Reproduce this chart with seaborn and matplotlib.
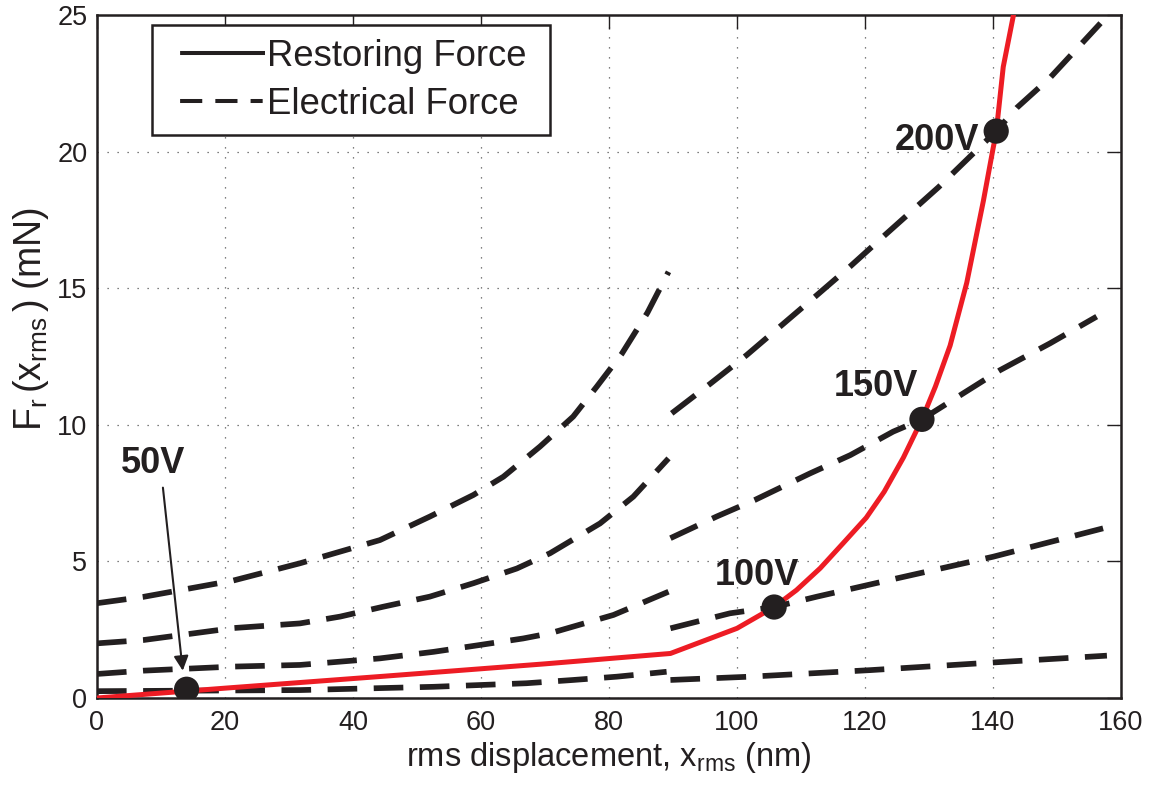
import numpy as np
import pandas as pd
import matplotlib
matplotlib.use("Agg")
import matplotlib.pyplot as plt
from matplotlib.lines import Line2D
import seaborn as sns

# ---- data -------------------------------------------------------------
# restoring force F_r(x_rms), mN
restoring_x = [0, 20, 45, 70, 89.6, 100, 105.8, 109.3, 113, 116.6, 120.2, 123,
               126, 128.9, 131, 133.3, 135.9, 138.5, 140, 140.5, 141.6, 143.2]
restoring_y = [0, 0.36, 0.8, 1.25, 1.63, 2.55, 3.33, 3.95, 4.75, 5.67, 6.6, 7.55,
               8.8, 10.2, 11.4, 12.9, 15.2, 18.2, 20.1, 20.7, 23.1, 25.0]

# electrical force, low-displacement branch (x <= 90 nm)
elec_low_x = {
    "200V": [0, 7.2, 21.3, 31.7, 44.2, 52, 58.8, 63.5, 69.2, 74.4, 78.1, 82, 86, 89.3],
    "150V": [0, 7.2, 21.3, 31.7, 38, 44.7, 52, 58.8, 65.6, 70.8, 78.6, 83.8, 89.3],
    "100V": [0, 7.2, 21.3, 31.7, 44.2, 52.6, 59.8, 66.6, 70.8, 80.7, 89.3],
    "50V":  [0, 31.7, 52.6, 67.1, 74.4, 81.2, 89.0],
}
elec_low_y = {
    "200V": [3.47, 3.7, 4.3, 4.93, 5.78, 6.64, 7.43, 8.1, 9.2, 10.3, 11.4, 12.6, 14.1, 15.6],
    "150V": [2.0, 2.12, 2.56, 2.73, 2.98, 3.34, 3.71, 4.2, 4.74, 5.3, 6.39, 7.37, 8.77],
    "100V": [0.88, 1.0, 1.15, 1.21, 1.45, 1.69, 1.94, 2.18, 2.37, 3.04, 3.89],
    "50V":  [0.25, 0.29, 0.41, 0.54, 0.66, 0.78, 0.96],
}

# electrical force, high-displacement branch (x >= 90 nm)
elec_high_x = {
    "200V": [89.8, 95.8, 101.5, 112.5, 117.7, 122.9, 131.5, 140.5, 143.7, 148.9, 156.8],
    "150V": [89.6, 96.8, 102.8, 111.4, 117.7, 124.4, 128.9, 141.1, 148.9, 156.2],
    "100V": [89.6, 98.9, 105.8, 112.5, 125, 140, 157.2],
    "50V":  [89.6, 102, 120.8, 140, 157.8],
}
elec_high_y = {
    "200V": [10.42, 11.5, 12.55, 14.75, 15.8, 16.9, 18.7, 20.75, 21.6, 22.7, 24.7],
    "150V": [5.85, 6.64, 7.25, 8.22, 8.89, 9.75, 10.2, 12.0, 12.98, 13.96],
    "100V": [2.55, 3.1, 3.33, 3.71, 4.38, 5.17, 6.21],
    "50V":  [0.66, 0.78, 1.02, 1.3, 1.55],
}

# equilibrium points (restoring force = electrical force)
eq_labels = ["50V", "100V", "150V", "200V"]
eq_x = [14.0, 105.8, 128.9, 140.5]
eq_y = [0.32, 3.33, 10.2, 20.75]

x_ticks = [0, 20, 40, 60, 80, 100, 120, 140, 160]
y_ticks = [0, 5, 10, 15, 20, 25]

# ---- style ------------------------------------------------------------
sns.set_theme(style="white")
plt.rcParams["font.family"] = ["Liberation Sans", "DejaVu Sans"]
plt.rcParams["mathtext.fontset"] = "custom"
plt.rcParams["mathtext.rm"] = "Liberation Sans"
plt.rcParams["mathtext.it"] = "Liberation Sans"
plt.rcParams["mathtext.bf"] = "Liberation Sans:bold"

INK = "#231f20"
RED = "#ed1c24"
DASH = (0, (5.2, 2.9))

fig = plt.figure(figsize=(11.56, 7.85), dpi=100)
ax = fig.add_axes([97 / 1156, 1 - 698 / 785, 1024 / 1156, 683 / 785])

for key in ["200V", "150V", "100V", "50V"]:
    for xs, ys in ((elec_low_x[key], elec_low_y[key]),
                   (elec_high_x[key], elec_high_y[key])):
        sns.lineplot(x=xs, y=ys, ax=ax, color=INK, lw=4.1, linestyle=DASH,
                     dash_capstyle="butt", sort=False, estimator=None)

sns.lineplot(x=restoring_x, y=restoring_y, ax=ax, color=RED, lw=3.6,
             sort=False, estimator=None, zorder=3)

sns.scatterplot(x=eq_x, y=eq_y, ax=ax, color=INK, s=330, edgecolor="none",
                zorder=4)

# voltage labels
label_pos = {"50V": (8.75, 8.6), "100V": (103.1, 4.5),
             "150V": (121.7, 11.4), "200V": (131.2, 20.4)}
for lab in eq_labels:
    lx, ly = label_pos[lab]
    ax.text(lx, ly, lab, fontsize=26, fontweight="bold", color=INK,
            ha="center", va="center")

ax.annotate("", xy=(13.4, 1.0), xytext=(10.3, 7.7),
            arrowprops=dict(arrowstyle="-|>", color=INK, lw=1.5,
                            mutation_scale=22, shrinkA=0, shrinkB=0))

# ---- axes -------------------------------------------------------------
ax.set_xlim(0, 160)
ax.set_ylim(0, 25)
ax.set_xticks(x_ticks)
ax.set_yticks(y_ticks)
ax.tick_params(direction="in", length=10, width=1, top=True, right=True,
               labelsize=19.5, colors=INK)
ax.tick_params(axis="x", pad=9)
ax.tick_params(axis="y", pad=7)
ax.grid(True, linestyle=(0, (1, 7)), color="#555555", lw=0.9)
for sp in ax.spines.values():
    sp.set_color(INK)
    sp.set_linewidth(1.8)

ax.set_xlabel(r"rms displacement, $\mathregular{x_{rms}}$ (nm)", fontsize=23.5,
              color=INK)
ax.set_ylabel(r"$\mathregular{F_r\,(x_{rms}\,)\;(mN)}$", fontsize=27,
              color=INK)
ax.xaxis.set_label_coords(0.5, -0.062)
ax.yaxis.set_label_coords(-0.045, 0.555)

# legend handles: a blank lead-in keeps the line samples away from the frame
LEG_FS = 26.3
HLW_PX = 4.0             # handle line width in pixels
lead = 14 / HLW_PX
solid_style = (0, (0, lead, 85 / HLW_PX, 400))
dashed_style = (0, (0, lead, 5.5, 3.25, 5.5, 3.25, 3.0, 400))
handles = [Line2D([], [], color=INK, lw=2.9, linestyle=solid_style,
                  dash_capstyle="butt"),
           Line2D([], [], color=INK, lw=2.9, linestyle=dashed_style,
                  dash_capstyle="butt")]
hl_px = 14 + 85
leg = ax.legend(handles, ["Restoring Force ", "Electrical Force "],
                loc="upper left", bbox_to_anchor=(0.0535, 0.985),
                fontsize=LEG_FS, frameon=True, fancybox=False, framealpha=1,
                edgecolor=INK, handlelength=hl_px / (LEG_FS * 100 / 72),
                handletextpad=0.06, labelspacing=0.34, borderpad=0.38,
                borderaxespad=0)
leg.get_frame().set_linewidth(1.8)
for t in leg.get_texts():
    t.set_color(INK)

fig.savefig("out.png", dpi=100, facecolor="white")
